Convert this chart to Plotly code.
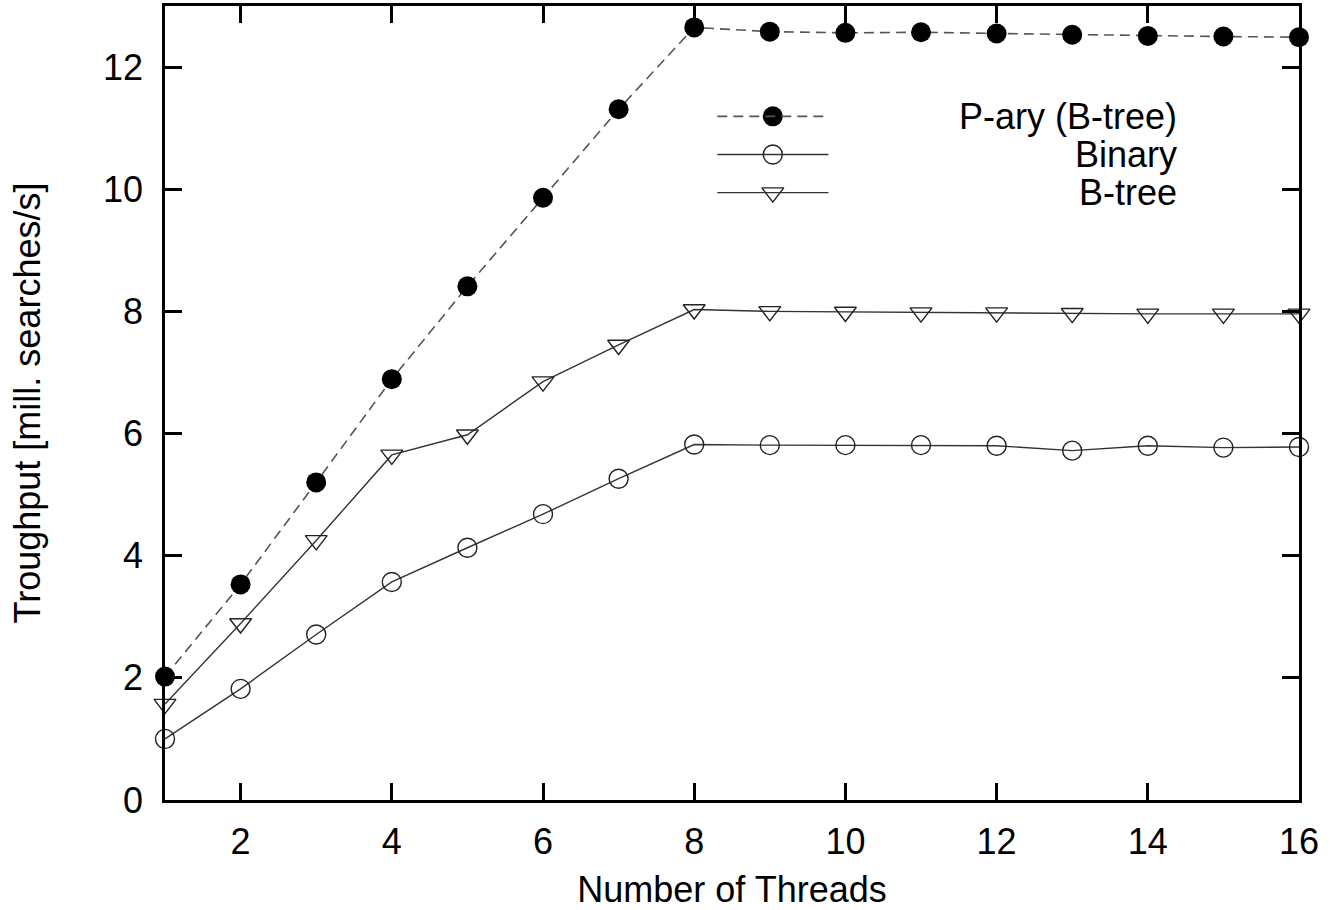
import plotly.graph_objects as go

# Throughput of search algorithms vs. number of threads
threads = list(range(1, 17))
pary_btree = [2.02, 3.53, 5.20, 6.89, 8.41, 9.86, 11.31, 12.65,
              12.58, 12.56, 12.57, 12.55, 12.53, 12.51, 12.50, 12.49]
binary = [1.00, 1.82, 2.71, 3.57, 4.13, 4.68, 5.26, 5.82,
          5.81, 5.81, 5.81, 5.80, 5.72, 5.80, 5.77, 5.78]
btree = [1.57, 2.89, 4.25, 5.65, 5.98, 6.85, 7.45, 8.03,
         8.00, 7.99, 7.98, 7.98, 7.97, 7.96, 7.96, 7.96]

series_names = ["P-ary (B-tree)", "Binary", "B-tree"]
x_ticks = [2, 4, 6, 8, 10, 12, 14, 16]
y_ticks = [0, 2, 4, 6, 8, 10, 12]

FONT = "Liberation Sans, Arial, Helvetica, sans-serif"
FS = 36

styles = [
    dict(line=dict(color="#555555", width=1.6, dash="10px,6px"),
         marker=dict(symbol="circle", size=20, color="black",
                     line=dict(color="black", width=0))),
    dict(line=dict(color="#333333", width=1.4),
         marker=dict(symbol="circle-open", size=19, color="#222",
                     line=dict(color="#222", width=1.4))),
    dict(line=dict(color="#333333", width=1.4),
         marker=dict(symbol="triangle-down-open", size=19, color="#222",
                     line=dict(color="#222", width=1.4))),
]

fig = go.Figure()
for name, values, st in zip(series_names, [pary_btree, binary, btree], styles):
    fig.add_trace(go.Scatter(x=threads, y=values, name=name, mode="lines+markers",
                             line=st["line"], marker=st["marker"],
                             cliponaxis=False, showlegend=False))

# Key in the upper middle: sample line with marker, label right-aligned
key_x0, key_x1, key_xm, key_text_x = 0.487, 0.585, 0.536, 0.894
key_rows = [0.861, 0.813, 0.765]
for name, st, ky in zip(series_names, styles, key_rows):
    fig.add_shape(type="line", xref="paper", yref="paper",
                  x0=key_x0, x1=key_x1, y0=ky, y1=ky,
                  line=dict(color=st["line"]["color"], width=st["line"]["width"],
                            dash=st["line"].get("dash", "solid")))
    fig.add_trace(go.Scatter(x=[key_xm], y=[ky], mode="markers", marker=st["marker"],
                             xaxis="x2", yaxis="y2", showlegend=False,
                             hoverinfo="skip", cliponaxis=False))
    fig.add_annotation(x=key_text_x, y=ky, xref="paper", yref="paper",
                       text=name, showarrow=False, xanchor="right", yanchor="middle",
                       font=dict(family=FONT, size=FS, color="black"))

axis_common = dict(showgrid=False, zeroline=False, showline=True, linecolor="black",
                   linewidth=2.5, mirror="ticks", ticks="inside", ticklen=17,
                   tickwidth=2.5, tickcolor="black", automargin=False,
                   tickfont=dict(family=FONT, size=FS, color="black"))

fig.update_layout(
    width=1330, height=910,
    margin=dict(l=165, r=31, t=6, b=110),
    paper_bgcolor="white", plot_bgcolor="white",
    xaxis=dict(range=[1, 16], tickvals=x_ticks, ticklabelstandoff=8,
               title=dict(text="Number of Threads", standoff=24,
                          font=dict(family=FONT, size=FS, color="black")),
               **axis_common),
    yaxis=dict(range=[0, 13], tickvals=y_ticks, ticklabelstandoff=12,
               title=dict(text="Troughput [mill. searches/s]", standoff=52,
                          font=dict(family=FONT, size=FS, color="black")),
               **axis_common),
    xaxis2=dict(range=[0, 1], overlaying="x", visible=False, fixedrange=True),
    yaxis2=dict(range=[0, 1], overlaying="y", visible=False, fixedrange=True),
)

fig.write_html("out.html")
